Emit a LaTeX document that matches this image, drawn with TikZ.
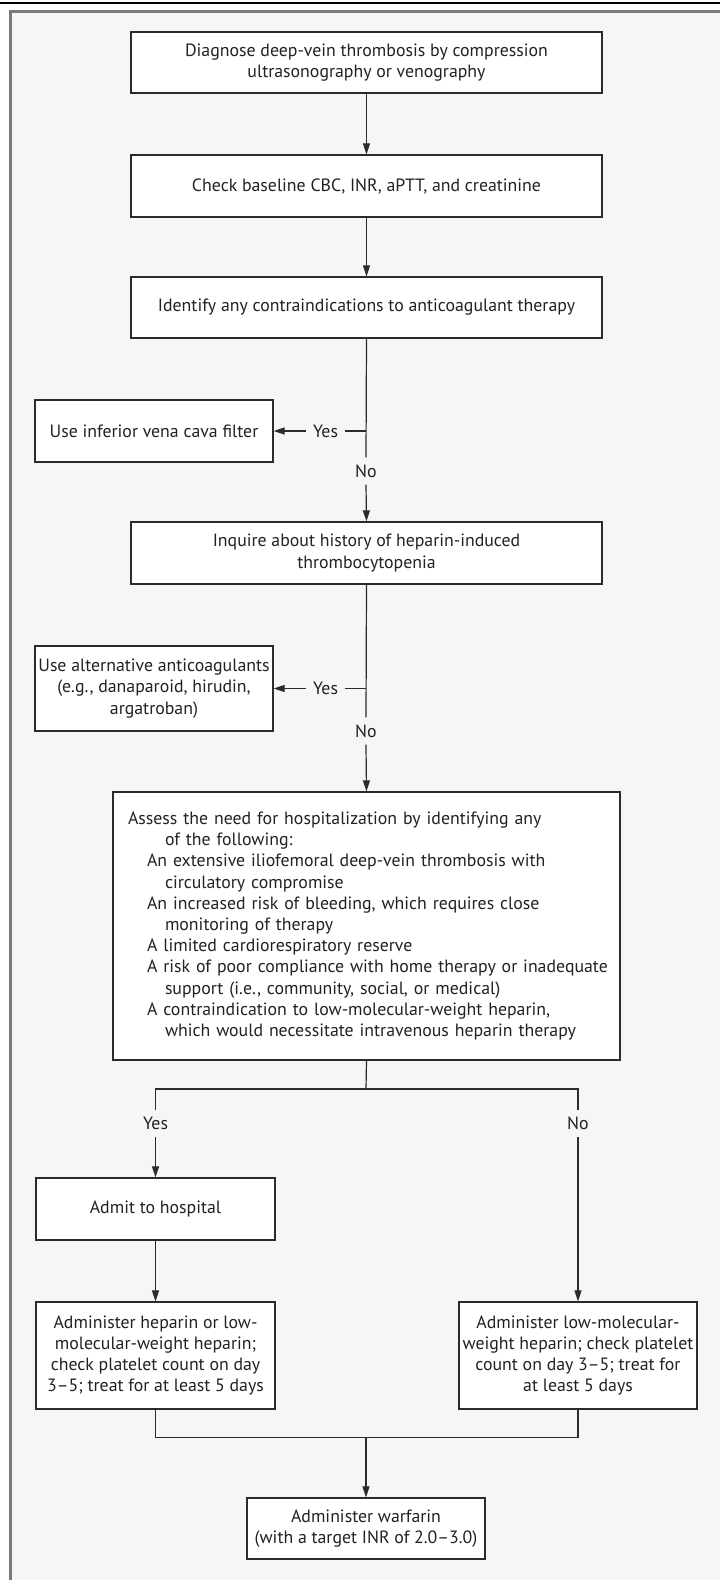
\documentclass[tikz,border=0pt]{standalone}
\usepackage{fontspec}
\setmainfont{PT Sans}
\usetikzlibrary{arrows.meta}
\definecolor{bgc}{HTML}{F6F6F6}
\definecolor{framec}{HTML}{7A7A7A}
\definecolor{linec}{HTML}{2B2B2B}
\definecolor{txtc}{HTML}{222222}
\newcommand\mkfs{\fontsize{17.8}{21.2}\selectfont}
\begin{document}
\begin{tikzpicture}[x=1pt,y=-1pt,
  box/.style={draw=linec, line width=1.3pt, fill=white, inner sep=0pt, align=center, text=txtc, font=\mkfs},
  lbl/.style={inner ysep=0pt, inner xsep=7pt, minimum height=27pt, text=txtc, font=\mkfs},
  conn/.style={draw=linec, line width=1.2pt},
  arr/.style={conn, -{Triangle[length=11pt,width=7pt]}}]
\useasboundingbox (0,0) rectangle (720,1580);
\fill[white] (0,0) rectangle (720,1580);
\fill[bgc] (10,11.5) rectangle (720,1580);
\draw[framec, line width=2.2pt] (720,11.5) -- (10.5,11.5) -- (10.5,1580);
\draw[black, line width=2.2pt] (0,2.6) -- (720,2.6);

% boxes
\node[box, minimum width=471pt, minimum height=61pt] (b1) at (366.5,62.5)
  {Diagnose deep-vein thrombosis by compression\\ultrasonography or venography};
\node[box, minimum width=471pt, minimum height=62pt] (b2) at (366.5,186)
  {Check baseline CBC, INR, aPTT, and creatinine};
\node[box, minimum width=471pt, minimum height=61pt] (b3) at (366.5,307.5)
  {Identify any contraindications to anticoagulant therapy};
\node[box, minimum width=238pt, minimum height=62pt] (ivc) at (154,431)
  {Use inferior vena cava filter};
\node[box, minimum width=471pt, minimum height=62pt] (inq) at (366.5,553)
  {Inquire about history of heparin-induced\\thrombocytopenia};
\node[box, minimum width=238pt, minimum height=85pt] (alt) at (154,688.5)
  {Use alternative anticoagulants\\(e.g., danaparoid, hirudin,\\argatroban)};
\node[box, minimum width=507pt, minimum height=268pt, align=left, text width=477pt, inner xsep=15pt] (assess) at (366.5,926)
  {\mbox{Assess the need for hospitalization by identifying any}\\
   \hspace*{37pt}\mbox{of the following:}\\
   \hspace*{19pt}\mbox{An extensive iliofemoral deep-vein thrombosis with}\\
   \hspace*{37pt}\mbox{circulatory compromise}\\
   \hspace*{19pt}\mbox{An increased risk of bleeding, which requires close}\\
   \hspace*{37pt}\mbox{monitoring of therapy}\\
   \hspace*{19pt}\mbox{A limited cardiorespiratory reserve}\\
   \hspace*{19pt}\mbox{A risk of poor compliance with home therapy or inadequate}\\
   \hspace*{37pt}\mbox{support (i.e., community, social, or medical)}\\
   \hspace*{19pt}\mbox{A contraindication to low-molecular-weight heparin,}\\
   \hspace*{37pt}\mbox{which would necessitate intravenous heparin therapy}};
\node[box, minimum width=239pt, minimum height=62pt] (admit) at (155.5,1209)
  {Admit to hospital};
\node[box, minimum width=239pt, minimum height=107pt] (hep) at (155.5,1355.5)
  {Administer heparin or low-\\molecular-weight heparin;\\check platelet count on day\\3--5; treat for at least 5 days};
\node[box, minimum width=238pt, minimum height=107pt] (lmwh) at (578,1355.5)
  {Administer low-molecular-\\weight heparin; check platelet\\count on day 3--5; treat for\\at least 5 days};
\node[box, minimum width=238pt, minimum height=61pt] (warf) at (366,1528.5)
  {Administer warfarin\\(with a target INR of 2.0--3.0)};

% labels
\node[lbl] (yesA) at (325.5,431) {Yes};
\node[lbl] (noA) at (366,471) {No};
\node[lbl] (yesB) at (325.5,688.5) {Yes};
\node[lbl] (noB) at (366,731) {No};
\node[lbl] (yesC) at (155.5,1123.5) {Yes};
\node[lbl] (noC) at (578,1123.5) {No};

% junction coordinates
\coordinate (jA) at (366,431);
\coordinate (jB) at (366,688.5);
\coordinate (br) at (366,1089);
\coordinate (mrg) at (366,1437.7);

% connectors
\draw[arr] (b1.south) -- (b2.north);
\draw[arr] (b2.south) -- (b3.north);
\draw[conn] (b3.south) -- (noA.north);
\draw[conn] (jA) -- (yesA.east);
\draw[arr] (yesA.west) -- (ivc.east);
\draw[arr] (noA.south) -- (inq.north);
\draw[conn] (inq.south) -- (noB.north);
\draw[conn] (jB) -- (yesB.east);
\draw[arr] (yesB.west) -- (alt.east);
\draw[arr] (noB.south) -- (assess.north);
\draw[conn] (assess.south) -- (br);
\draw[conn] (yesC.north) |- (br) -| (noC.north);
\draw[arr] (yesC.south) -- (admit.north);
\draw[arr] (noC.south) -- (lmwh.north);
\draw[arr] (admit.south) -- (hep.north);
\draw[conn] (hep.south) |- (mrg);
\draw[conn] (lmwh.south) |- (mrg);
\draw[arr] (mrg) -- (warf.north);
\end{tikzpicture}
\end{document}
